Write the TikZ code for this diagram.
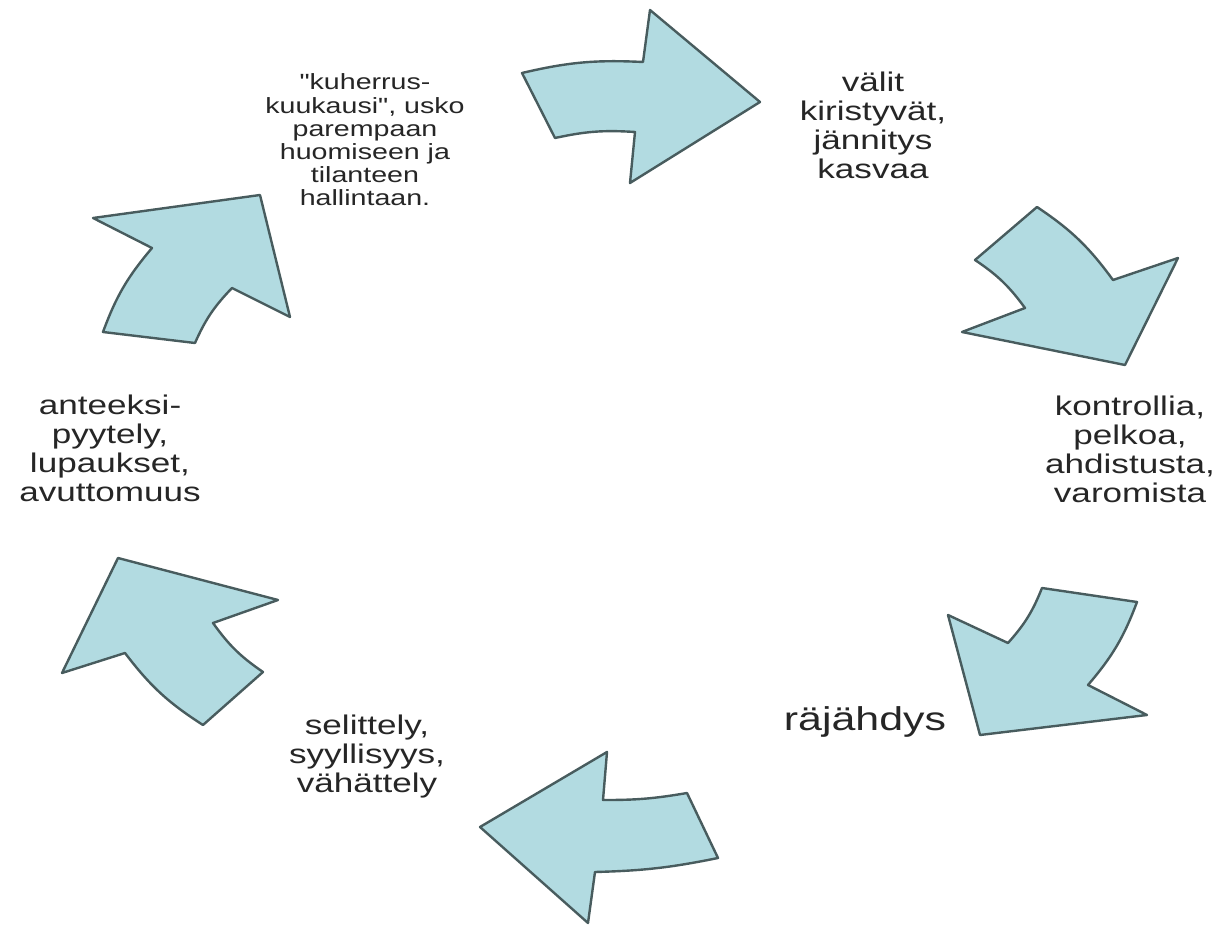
\documentclass[tikz,border=0pt]{standalone}
\usepackage{fontspec}
\newfontfamily\lblfont{Liberation Sans}[FakeStretch=1.3]
\usepackage{tikz}
\usetikzlibrary{positioning, calc}
\definecolor{cycfill}{RGB}{178,219,225}
\definecolor{cycline}{RGB}{72,92,94}
\definecolor{txtgray}{RGB}{38,38,38}
\tikzset{%
	cyc/.style={draw=cycline, fill=cycfill, line width=1.2pt, line join=round},
	lbl/.style={align=center, inner sep=0pt, text=txtgray,%
		font=\lblfont\fontsize{13.5}{14.5}\selectfont},
	lblsmall/.style={lbl, font=\lblfont\fontsize{11}{11.6}\selectfont},
	lblbig/.style={lbl, font=\lblfont\fontsize{16.5}{18}\selectfont}
}
\begin{document}
\begin{tikzpicture}[x=0.5pt, y=-0.5pt]
	\useasboundingbox (0,0) rectangle (1222,930);

	% arrows, clockwise from the top
	\draw[cyc] (522,73) to[bend left=8] (643,62) -- (650,10) -- (760,102)
		-- (630,183) -- (635,132) to[bend right=8] (555,138) -- cycle;
	\draw[cyc] (1037,207) to[bend left=10] (1113,280) -- (1178,258) -- (1125,365)
		-- (962,332) -- (1025,308) to[bend right=10] (975,260) -- cycle;
	\draw[cyc] (1042,588) -- (1137,602) to[bend left=10] (1088,685) -- (1147,715)
		-- (980,735) -- (948,615) -- (1008,643) to[bend right=10] (1042,588) -- cycle;
	\draw[cyc] (607,752) -- (603,800) to[bend right=5] (687,793) -- (718,858)
		to[bend left=5] (595,872) -- (588,923) -- (480,827) -- cycle;
	\draw[cyc] (118,558) -- (278,600) -- (213,623) to[bend right=10] (263,672)
		-- (203,725) to[bend left=10] (125,653) -- (62,673) -- cycle;
	\draw[cyc] (260,195) -- (290,317) -- (232,288) to[bend right=10] (195,343)
		-- (103,332) to[bend left=10] (152,248) -- (93,218) -- cycle;

	% labels
	\node[lblsmall] (honeymoon) at (365,140) {"kuherrus-\\kuukausi", usko\\parempaan\\huomiseen ja\\tilanteen\\hallintaan.};
	\node[lbl] (tension) at (873,125) {välit\\kiristyvät,\\jännitys\\kasvaa};
	\node[lbl] (control) at (1130,449) {kontrollia,\\pelkoa,\\ahdistusta,\\varomista};
	\node[lblbig] (blast) at (865,722) {räjähdys};
	\node[lbl] (excuse) at (367,757) {selittely,\\syyllisyys,\\vähättely};
	\node[lbl] (apology) at (110,448) {anteeksi-\\pyytely,\\lupaukset,\\avuttomuus};
\end{tikzpicture}
\end{document}
